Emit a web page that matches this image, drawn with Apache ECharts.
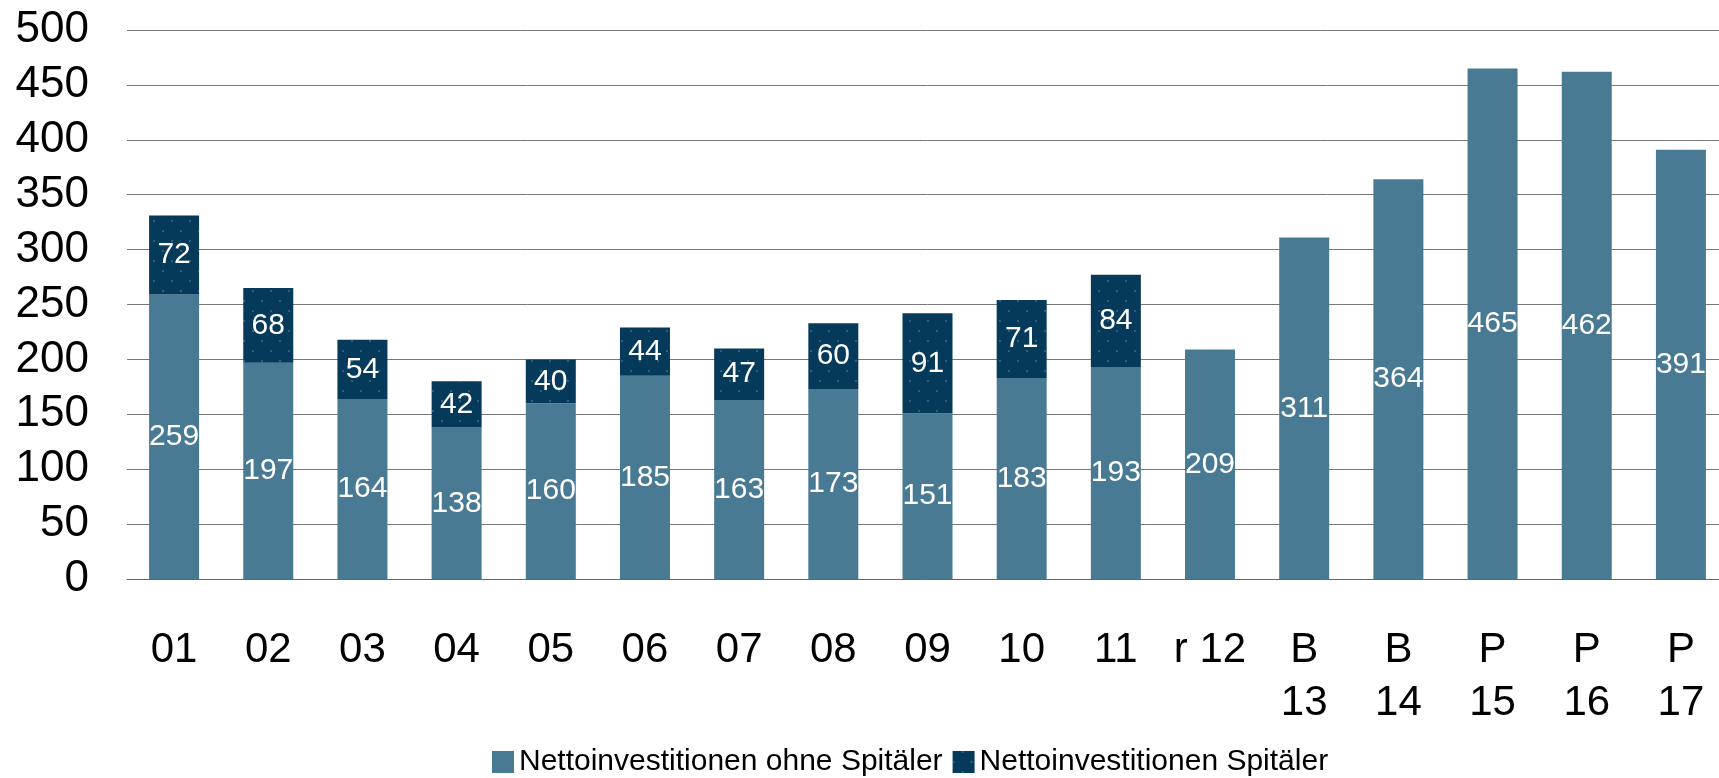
<!DOCTYPE html>
<html>
<head>
<meta charset="utf-8">
<script src="https://cdn.jsdelivr.net/npm/echarts@6/dist/echarts.min.js"></script>
<style>
  html, body { margin: 0; padding: 0; background: #fff; overflow: hidden; }
  /* a little wider than the window: the last bar's slot runs past the right edge */
  #chart { width: 1730px; height: 778px; }
</style>
</head>
<body>
<div id="chart"></div>
<script>
// years (B = Budget, P = Plan)
var categories = ['01', '02', '03', '04', '05', '06', '07', '08', '09', '10', '11', 'r 12', 'B\n13', 'B\n14', 'P\n15', 'P\n16', 'P\n17'];
var ohneSpitaeler = [259, 197, 164, 138, 160, 185, 163, 173, 151, 183, 193, 209, 311, 364, 465, 462, 391];
var spitaeler = [72, 68, 54, 42, 40, 44, 47, 60, 91, 71, 84, '-', '-', '-', '-', '-', '-'];
var seriesNames = ['Nettoinvestitionen ohne Spitäler', 'Nettoinvestitionen Spitäler'];

var FONT = '"Liberation Sans", Arial, Helvetica, sans-serif';

var chart = echarts.init(document.getElementById('chart'));

var label = {
  show: true,
  position: 'inside',
  color: '#fff',
  fontFamily: FONT,
  fontSize: 30
};

chart.setOption({
  animation: false,
  textStyle: { fontFamily: FONT },
  grid: { left: 127, top: 30, width: 1601, bottom: 199, containLabel: false },
  legend: {
    left: 487,
    top: 742,
    itemWidth: 22,
    itemHeight: 22,
    itemGap: 10,
    icon: 'rect',
    textStyle: { fontSize: 30, color: '#000', fontFamily: FONT },
    data: seriesNames
  },
  xAxis: {
    type: 'category',
    data: categories,
    axisTick: { show: false },
    axisLine: { lineStyle: { color: '#666', width: 1 } },
    axisLabel: { color: '#000', fontSize: 42, lineHeight: 53, margin: 45, fontFamily: FONT, interval: 0 }
  },
  yAxis: {
    type: 'value',
    min: 0,
    max: 500,
    interval: 50,
    axisLine: { show: false },
    axisTick: { show: false },
    splitLine: { lineStyle: { color: '#777', width: 1 } },
    axisLabel: { color: '#000', fontSize: 44, margin: 38, fontFamily: FONT }
  },
  series: [
    {
      name: seriesNames[0],
      type: 'bar',
      stack: 'total',
      barWidth: 50,
      data: ohneSpitaeler,
      itemStyle: { color: '#497a93' },
      label: label
    },
    {
      name: seriesNames[1],
      type: 'bar',
      stack: 'total',
      barWidth: 50,
      data: spitaeler,
      itemStyle: {
        color: '#053a5a',
        decal: {
          symbol: 'circle',
          symbolSize: 1,
          color: 'rgba(110,160,180,0.5)',
          dashArrayX: [[2, 16], [0, 9, 2, 7]],
          dashArrayY: [2, 8]
        }
      },
      label: label
    }
  ]
});
</script>
</body>
</html>
